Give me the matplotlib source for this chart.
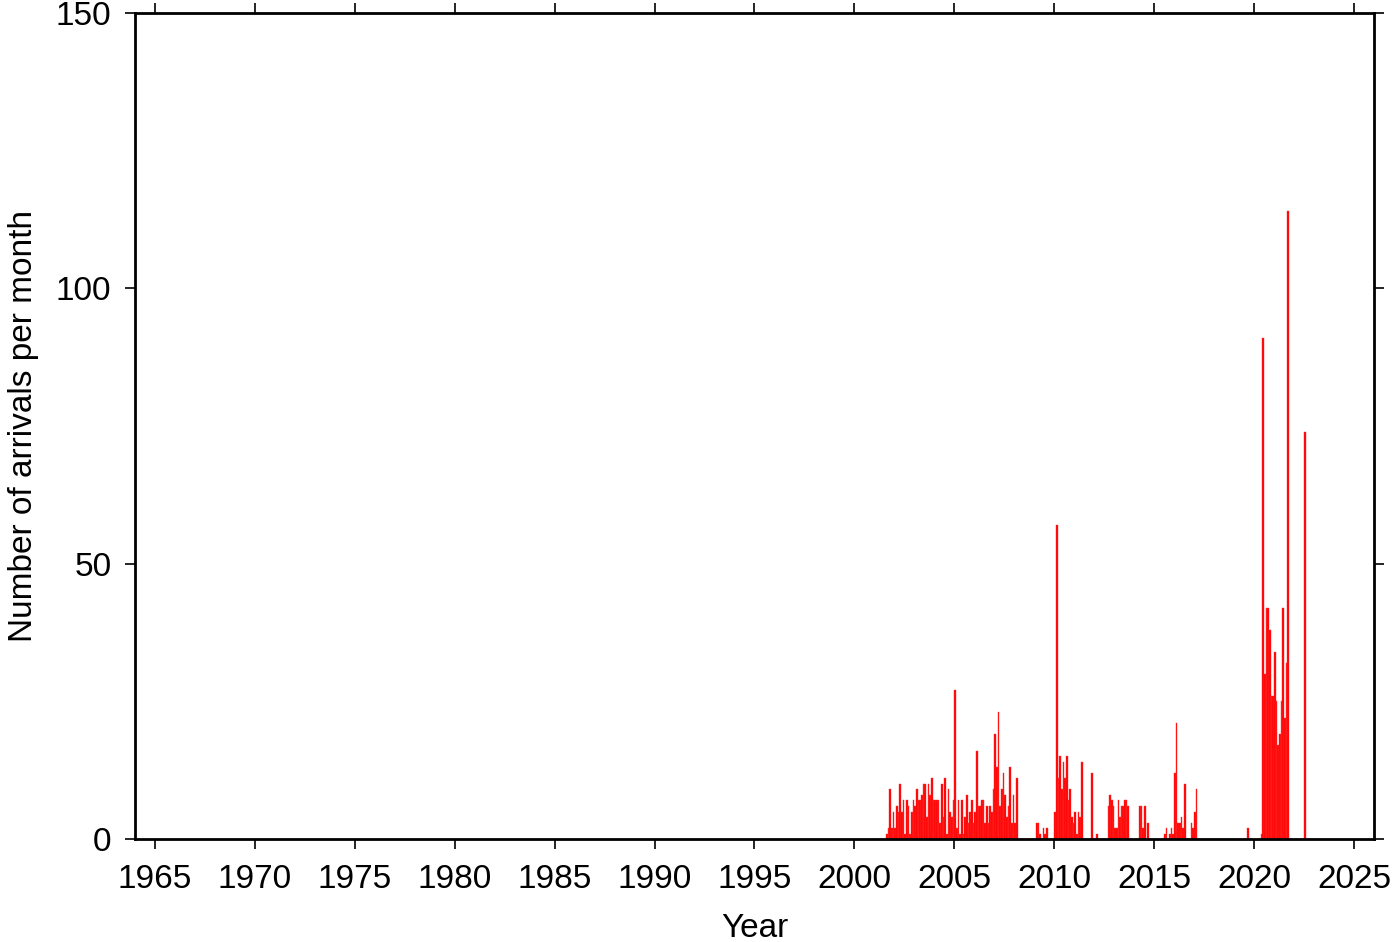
import numpy as np
import matplotlib
matplotlib.use("Agg")
import matplotlib.pyplot as plt

plt.rcParams['font.family'] = ['Liberation Sans', 'DejaVu Sans']

# monthly arrival counts, one row per year (Jan..Dec), starting 2001
first_year = 2001
counts_by_year = [
    [0, 0, 0, 0, 0, 0, 0, 1, 2, 9, 2, 5],          # 2001
    [2, 6, 5, 10, 5, 7, 1, 7, 6, 1, 5, 7],         # 2002
    [6, 9, 7, 7, 8, 10, 10, 4, 10, 8, 11, 7],      # 2003
    [7, 7, 7, 3, 10, 4, 11, 1, 9, 5, 4, 7],        # 2004
    [27, 2, 7, 1, 7, 1, 4, 8, 3, 5, 7, 3],         # 2005
    [5, 16, 6, 6, 7, 7, 3, 6, 3, 6, 5, 9],         # 2006
    [19, 13, 23, 6, 9, 12, 8, 4, 6, 13, 3, 8],     # 2007
    [3, 11, 0, 0, 0, 0, 0, 0, 0, 0, 0, 0],         # 2008
    [0, 3, 3, 1, 0, 2, 1, 2, 0, 0, 0, 0],          # 2009
    [5, 57, 11, 15, 9, 14, 11, 15, 7, 9, 4, 3],    # 2010
    [5, 1, 5, 4, 14, 0, 0, 0, 0, 0, 12, 0],        # 2011
    [0, 1, 0, 0, 0, 0, 0, 0, 6, 8, 7, 6],          # 2012
    [2, 2, 7, 4, 6, 6, 7, 7, 6, 0, 0, 0],          # 2013
    [0, 0, 0, 6, 6, 2, 6, 0, 3, 0, 0, 0],          # 2014
    [0, 0, 0, 0, 0, 0, 1, 2, 0, 1, 2, 1],          # 2015
    [12, 21, 3, 3, 4, 2, 10, 0, 0, 0, 3, 2],       # 2016
    [5, 9, 0, 0, 0, 0, 0, 0, 0, 0, 0, 0],          # 2017
    [0, 0, 0, 0, 0, 0, 0, 0, 0, 0, 0, 0],          # 2018
    [0, 0, 0, 0, 0, 0, 0, 0, 2, 0, 0, 0],          # 2019
    [0, 0, 0, 0, 1, 91, 30, 42, 42, 38, 26, 26],   # 2020
    [34, 25, 17, 19, 25, 42, 22, 32, 114, 0, 0, 0],  # 2021
    [0, 0, 0, 0, 0, 0, 74, 0, 0, 0, 0, 0],         # 2022
]

year_ticks = list(range(1965, 2026, 5))
count_ticks = [0, 50, 100, 150]

counts = np.array(counts_by_year).ravel()
months = first_year + np.arange(len(counts)) / 12.0

fig = plt.figure(figsize=(14, 9.42), dpi=100)
ax = fig.add_axes([0.0964, 0.1093, 0.9814 - 0.0964, 0.9862 - 0.1093])

ax.bar(months, counts, width=1 / 12.0, align='edge', color='red',
       edgecolor='#ff3333', linewidth=0.3)

ax.set_xlim(1964, 2026)
ax.set_ylim(0, 150)
ax.set_xticks(year_ticks)
ax.set_yticks(count_ticks)

for s in ax.spines.values():
    s.set_linewidth(2)

ax.tick_params(direction='out', length=7, width=1.2, labelsize=24,
               top=True, right=True)
ax.tick_params(axis='x', pad=11)
ax.tick_params(axis='y', pad=10)
ax.set_xlabel('Year', fontsize=24, labelpad=13)
ax.set_ylabel('Number of arrivals per month', fontsize=24, labelpad=12)

plt.savefig('out.png', dpi=100)
